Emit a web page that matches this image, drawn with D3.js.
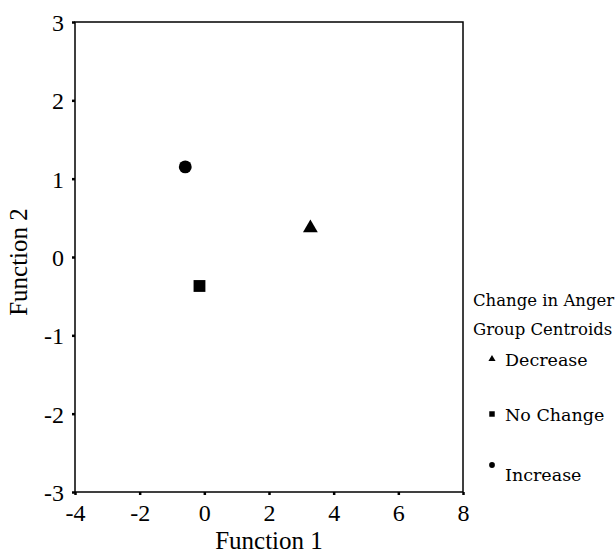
<!DOCTYPE html>
<html>
<head>
<meta charset="utf-8">
<script src="https://cdn.jsdelivr.net/npm/d3@7"></script>
<style>
  body { margin: 0; background: #fff; }
  svg { display: block; }
  .tick text { font-family: "Liberation Serif", "Times New Roman", serif; }
</style>
</head>
<body>
<div id="chart"></div>
<script>
// group centroids (function 1, function 2)
const groups = ["Decrease", "No Change", "Increase"];
const func1 = [3.28, -0.15, -0.59];
const func2 = [0.37, -0.37, 1.15];
const shapes = ["triangle", "square", "circle"];
const xTicks = [-4, -2, 0, 2, 4, 6, 8];
const yTicks = [-3, -2, -1, 0, 1, 2, 3];
const legendTitle = ["Change in Anger", "Group Centroids"];

const W = 615, H = 554;
const plot = {x0: 75, y0: 22, x1: 463, y1: 492};

const svg = d3.select("#chart").append("svg")
  .attr("width", W).attr("height", H);

const x = d3.scaleLinear().domain([-4, 8]).range([plot.x0, plot.x1]);
const y = d3.scaleLinear().domain([-3, 3]).range([plot.y1, plot.y0]);

const symType = {triangle: d3.symbolTriangle, square: d3.symbolSquare, circle: d3.symbolCircle};

// frame
svg.append("rect")
  .attr("x", plot.x0).attr("y", plot.y0)
  .attr("width", plot.x1 - plot.x0).attr("height", plot.y1 - plot.y0)
  .attr("fill", "none").attr("stroke", "#000").attr("stroke-width", 1.5);

// axes
const xAxis = svg.append("g")
  .attr("transform", `translate(0,${plot.y1})`)
  .call(d3.axisBottom(x).tickValues(xTicks).tickSize(3).tickPadding(9).tickFormat(d3.format("d")));
const yAxis = svg.append("g")
  .attr("transform", `translate(${plot.x0},0)`)
  .call(d3.axisLeft(y).tickValues(yTicks).tickSize(3).tickPadding(8).tickFormat(d3.format("d")));

[xAxis, yAxis].forEach(a => {
  a.select(".domain").remove();
  a.selectAll(".tick line").attr("stroke", "#000").attr("stroke-width", 2.5);
  a.selectAll(".tick text").attr("fill", "#000").style("font-size", "24px")
    .text(d => d < 0 ? "-" + Math.abs(d) : d);
});
yAxis.selectAll(".tick text").attr("dy", "0.36em");

// axis titles
svg.append("text")
  .attr("x", (plot.x0 + plot.x1) / 2).attr("y", 549)
  .attr("text-anchor", "middle")
  .style("font-family", "Liberation Serif, serif").style("font-size", "25px")
  .text("Function 1");
svg.append("text")
  .attr("transform", `translate(27,262) rotate(-90)`)
  .attr("text-anchor", "middle")
  .style("font-family", "Liberation Serif, serif").style("font-size", "25px")
  .text("Function 2");

// centroids
const pts = groups.map((g, i) => ({g: g, fx: func1[i], fy: func2[i], s: shapes[i]}));
const sizes = {triangle: 95, square: 140, circle: 130};
svg.append("g").selectAll("path").data(pts).join("path")
  .attr("transform", d => `translate(${x(d.fx)},${y(d.fy)})`)
  .attr("d", d => d3.symbol().type(symType[d.s]).size(sizes[d.s])())
  .attr("fill", "#000");

// legend
const leg = svg.append("g").style("font-family", "DejaVu Serif, serif");
leg.selectAll("text.title").data(legendTitle).join("text")
  .attr("class", "title")
  .attr("x", 473).attr("y", (d, i) => 306 + i * 29)
  .style("font-size", "16.5px")
  .text(d => d);

const legY = [366, 421, 481];
const legMarkY = [359, 414, 465];
const lsizes = {triangle: 22, square: 30, circle: 26};
leg.selectAll("path").data(pts).join("path")
  .attr("transform", (d, i) => `translate(492,${legMarkY[i]})`)
  .attr("d", d => d3.symbol().type(symType[d.s]).size(lsizes[d.s])())
  .attr("fill", "#000");
leg.selectAll("text.item").data(pts).join("text")
  .attr("class", "item")
  .attr("x", 505).attr("y", (d, i) => legY[i])
  .style("font-size", "17.5px")
  .text(d => d.g);
</script>
</body>
</html>
